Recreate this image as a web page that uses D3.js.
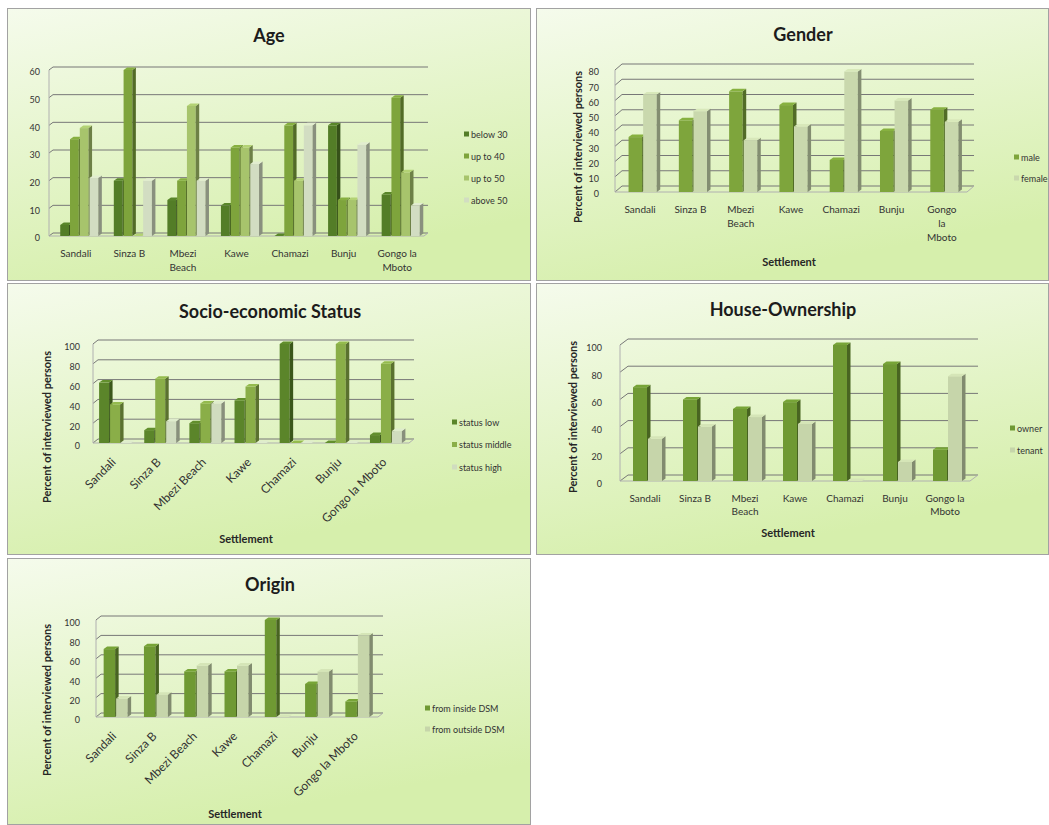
<!DOCTYPE html>
<html>
<head>
<meta charset="utf-8">
<script src="https://cdn.jsdelivr.net/npm/d3@7"></script>
<style>
  body { margin: 0; background: #ffffff; }
  text { font-family: Lato, "Open Sans", "Liberation Sans", sans-serif; }
</style>
</head>
<body>
<svg id="chart" width="1049" height="825"></svg>
<script>
// Settlements surveyed (same order in every panel)
const settlements = ["Sandali", "Sinza B", "Mbezi Beach", "Kawe", "Chamazi", "Bunju", "Gongo la Mboto"];

// Age of interviewed persons (percent)
const ageGroups = ["below 30", "up to 40", "up to 50", "above 50"];
const ageBelow30 = [4, 20, 13, 11, 0, 40, 15];
const ageUpTo40  = [35, 60, 20, 32, 40, 13, 50];
const ageUpTo50  = [39, 0, 47, 32, 20, 13, 23];
const ageAbove50 = [21, 20, 20, 26, 40, 33, 11];

// Gender (percent of interviewed persons)
const genders = ["male", "female"];
const genderMale   = [36, 47, 66, 57, 21, 40, 54];
const genderFemale = [64, 53, 34, 43, 79, 60, 46];

// Socio-economic status (percent of interviewed persons)
const statusGroups = ["status low", "status middle", "status high"];
const statusLow    = [61, 13, 20, 43, 100, 0, 8];
const statusMiddle = [39, 65, 40, 57, 0, 100, 80];
const statusHigh   = [0, 22, 40, 0, 0, 0, 12];

// House ownership (percent of interviewed persons)
const tenure = ["owner", "tenant"];
const owners  = [69, 60, 53, 58, 100, 86, 23];
const tenants = [31, 40, 47, 42, 0, 14, 77];

// Origin (percent of interviewed persons)
const origins = ["from inside DSM", "from outside DSM"];
const fromInside  = [70, 73, 47, 47, 100, 34, 16];
const fromOutside = [19, 23, 53, 53, 0, 47, 84];

const svg = d3.select("#chart");
const defs = svg.append("defs");
const bg = defs.append("linearGradient").attr("id", "panelBg")
  .attr("x1", "0").attr("y1", "0").attr("x2", "0.35").attr("y2", "1");
bg.append("stop").attr("offset", "0%").attr("stop-color", "#f5fbec");
bg.append("stop").attr("offset", "100%").attr("stop-color", "#d6efac");

function drawPanel(p) {
  const g = svg.append("g");
  const b = p.box;
  g.append("rect")
    .attr("x", b.x + 0.5).attr("y", b.y + 0.5)
    .attr("width", b.w - 1).attr("height", b.h - 1)
    .attr("fill", "url(#panelBg)").attr("stroke", "#a2a2a2");

  g.append("text")
    .attr("x", p.title.x).attr("y", p.title.y)
    .attr("text-anchor", "middle").attr("dominant-baseline", "central")
    .attr("font-size", 18).attr("font-weight", "bold").attr("fill", "#1c1c1c")
    .text(p.title.text);

  const y = d3.scaleLinear().domain([0, p.max]).range([p.y0, p.yTop]);
  const x = d3.scaleBand().domain(p.categories).range([p.x0, p.x1])
    .paddingInner(p.pad).paddingOuter(p.pad / 2);
  const xs = d3.scaleBand().domain(d3.range(p.series.length)).range([0, x.bandwidth()]);
  const [dx, dy] = p.depth;      // wall depth
  const bdx = 3.5, bdy = 2.5;    // column depth
  const shift = p.barShift || 0; // columns stand a little behind the labels
  const ticks = d3.range(0, p.max + 1e-9, p.step);

  // side and back wall gridlines
  const grid = g.append("g").attr("fill", "none").attr("stroke", "#777").attr("stroke-width", 1);
  ticks.forEach(t => {
    grid.append("path").attr("d",
      `M${p.x0},${y(t)}L${p.x0 + dx},${y(t) - dy}L${p.x1 + dx},${y(t) - dy}`);
  });
  grid.append("path").attr("stroke", "#b0b0b0")
    .attr("d", `M${p.x0},${y(0)}L${p.x0},${y(p.max)}`);
  grid.append("path").attr("stroke", "#b0b0b0")
    .attr("d", `M${p.x0},${y(0)}L${p.x1},${y(0)}L${p.x1 + dx},${y(0) - dy}`);

  // 3D columns: front face, right side face, top face
  const bars = g.append("g");
  p.categories.forEach((c, ci) => {
    p.values.forEach((vals, si) => {
      const v = vals[ci];
      const x0 = x(c) + xs(si) + shift;
      const w = xs.bandwidth() - 1;
      const yt = y(v), yb = y(0);
      const col = d3.color(p.colors[si]);
      if (yb - yt > 0) {
        bars.append("rect").attr("x", x0).attr("y", yt).attr("width", w).attr("height", yb - yt)
          .attr("fill", col.formatHex());
        bars.append("path")
          .attr("d", `M${x0 + w},${yt}L${x0 + w + bdx},${yt - bdy}L${x0 + w + bdx},${yb - bdy}L${x0 + w},${yb}Z`)
          .attr("fill", col.darker(1.2).formatHex());
      }
      bars.append("path")
        .attr("d", `M${x0},${yt}L${x0 + bdx},${yt - bdy}L${x0 + w + bdx},${yt - bdy}L${x0 + w},${yt}Z`)
        .attr("fill", col.brighter(0.2).formatHex());
    });
  });

  // value axis labels
  const yAxis = g.append("g").attr("transform", `translate(${p.yLabelX},${p.yLabelShift})`)
    .call(d3.axisLeft(y).tickValues(ticks).tickSize(0).tickPadding(0).tickFormat(d3.format("d")));
  yAxis.select(".domain").remove();
  yAxis.selectAll("text").attr("font-size", 9).attr("fill", "#333");

  // category axis labels
  const xAxis = g.append("g").attr("transform", `translate(0,${p.labelY})`)
    .call(d3.axisBottom(x).tickSize(0).tickPadding(0));
  xAxis.select(".domain").remove();
  xAxis.selectAll("text").attr("fill", "#333").each(function (d) {
    const t = d3.select(this);
    if (p.rotate !== undefined) {
      t.attr("font-size", 12).attr("text-anchor", "end").attr("y", 0).attr("dy", "0.35em")
        .attr("transform", `translate(${p.rotate},0) rotate(-45)`);
    } else {
      const lines = (p.wrap && p.wrap[d]) || [d];
      t.attr("font-size", 10).text(null).attr("dy", null);
      lines.forEach((l, i) => t.append("tspan").attr("x", 0)
        .attr("dy", i === 0 ? "0.71em" : p.lineH).text(l));
    }
  });

  if (p.yTitle) {
    g.append("text")
      .attr("transform", `translate(${p.yTitle.x},${p.yTitle.y}) rotate(-90)`)
      .attr("text-anchor", "middle").attr("dominant-baseline", "central")
      .attr("font-size", 11).attr("font-weight", "bold").attr("fill", "#262626")
      .text("Percent of interviewed persons");
  }
  if (p.xTitle) {
    g.append("text")
      .attr("x", p.xTitle.x).attr("y", p.xTitle.y)
      .attr("text-anchor", "middle").attr("dominant-baseline", "central")
      .attr("font-size", 11).attr("font-weight", "bold").attr("fill", "#262626")
      .text("Settlement");
  }

  // legend
  const lg = g.append("g");
  p.series.forEach((s, i) => {
    const ly = p.legend.y + i * p.legend.gap;
    lg.append("rect").attr("x", p.legend.x).attr("y", ly - 2.5).attr("width", 5).attr("height", 5)
      .attr("fill", p.colors[i]);
    lg.append("text").attr("x", p.legend.x + 7).attr("y", ly)
      .attr("dominant-baseline", "central").attr("font-size", 9).attr("fill", "#333").text(s);
  });
}

drawPanel({
  box: { x: 7, y: 8, w: 524, h: 273 },
  title: { text: "Age", x: 269, y: 35 },
  categories: settlements, series: ageGroups,
  values: [ageBelow30, ageUpTo40, ageUpTo50, ageAbove50],
  colors: ["#537d27", "#7ea43c", "#a7c46c", "#d2ddc2"],
  max: 60, step: 10, x0: 49, x1: 424, y0: 236, yTop: 70, depth: [4, 3], pad: 0.27,
  barShift: 4,
  yLabelX: 40, yLabelShift: 2, labelY: 250, lineH: 14,
  wrap: { "Mbezi Beach": ["Mbezi", "Beach"], "Gongo la Mboto": ["Gongo la", "Mboto"] },
  legend: { x: 464, y: 134, gap: 22 }
});

drawPanel({
  box: { x: 536, y: 8, w: 513, h: 273 },
  title: { text: "Gender", x: 803, y: 34 },
  categories: settlements, series: genders,
  values: [genderMale, genderFemale],
  colors: ["#7ea53c", "#c9d8ad"],
  max: 80, step: 10, x0: 615, x1: 967, y0: 192, yTop: 70, depth: [7, 6], pad: 0.42,
  barShift: 3,
  yLabelX: 599, yLabelShift: 2, labelY: 206, lineH: 14,
  wrap: { "Mbezi Beach": ["Mbezi", "Beach"], "Gongo la Mboto": ["Gongo", "la", "Mboto"] },
  yTitle: { x: 577, y: 147 }, xTitle: { x: 789, y: 261 },
  legend: { x: 1014, y: 157, gap: 21 }
});

drawPanel({
  box: { x: 7, y: 283, w: 524, h: 272 },
  title: { text: "Socio-economic Status", x: 270, y: 311 },
  categories: settlements, series: statusGroups,
  values: [statusLow, statusMiddle, statusHigh],
  colors: ["#5b852a", "#8aae48", "#d0dcbf"],
  max: 100, step: 20, x0: 93, x1: 409, y0: 443, yTop: 344, depth: [5, 4], pad: 0.27,
  yLabelX: 80, yLabelShift: 3, labelY: 460, rotate: -2,
  yTitle: { x: 46, y: 427 }, xTitle: { x: 246, y: 538 },
  legend: { x: 452, y: 422, gap: 22.5 }
});

drawPanel({
  box: { x: 536, y: 283, w: 513, h: 272 },
  title: { text: "House-Ownership", x: 783, y: 309 },
  categories: settlements, series: tenure,
  values: [owners, tenants],
  colors: ["#6f9933", "#c6d5aa"],
  max: 100, step: 20, x0: 620, x1: 970, y0: 481, yTop: 345, depth: [8, 6], pad: 0.4,
  barShift: 3,
  yLabelX: 602, yLabelShift: 3, labelY: 495, lineH: 13,
  wrap: { "Mbezi Beach": ["Mbezi", "Beach"], "Gongo la Mboto": ["Gongo la", "Mboto"] },
  yTitle: { x: 572, y: 417 }, xTitle: { x: 788, y: 532 },
  legend: { x: 1010, y: 428, gap: 22 }
});

drawPanel({
  box: { x: 7, y: 558, w: 524, h: 267 },
  title: { text: "Origin", x: 270, y: 584 },
  categories: settlements, series: origins,
  values: [fromInside, fromOutside],
  colors: ["#6f9933", "#c6d5aa"],
  max: 100, step: 20, x0: 96, x1: 378, y0: 717, yTop: 620, depth: [5, 4], pad: 0.38,
  yLabelX: 80, yLabelShift: 3, labelY: 734, rotate: -2,
  yTitle: { x: 46, y: 700 }, xTitle: { x: 235, y: 813 },
  legend: { x: 425, y: 708, gap: 21 }
});
</script>
</body>
</html>
